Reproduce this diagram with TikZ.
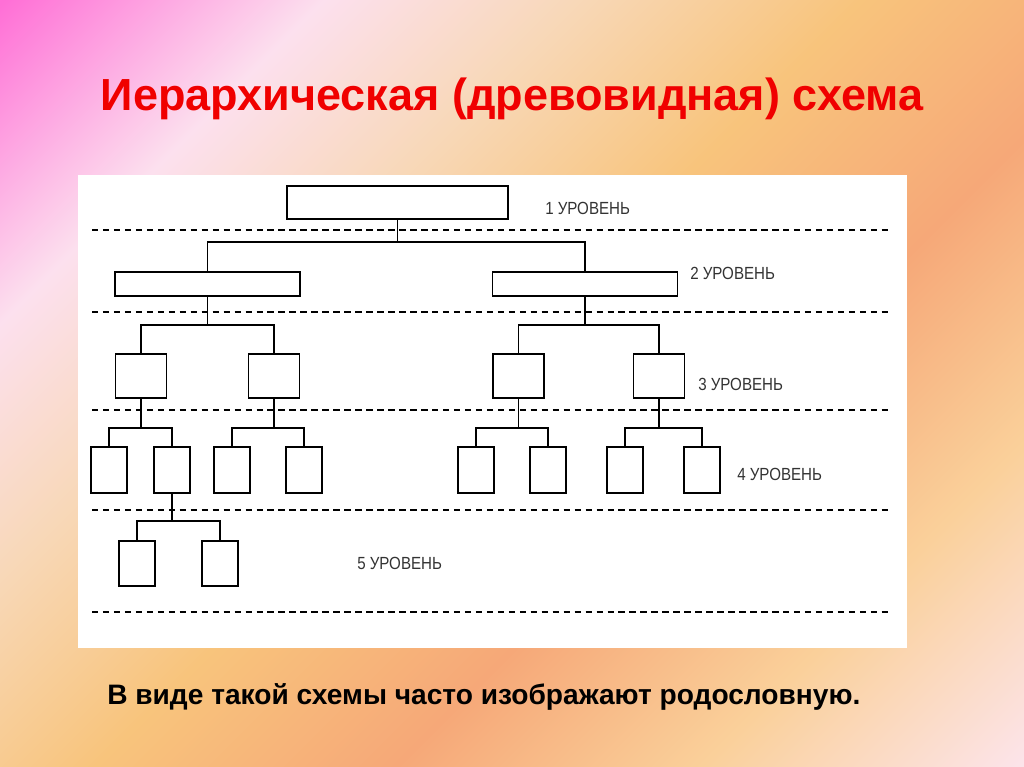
\documentclass[tikz,border=0pt]{standalone}
\usepackage{fontspec}
\setmainfont{Liberation Sans}
\newfontfamily\narrowfont[FakeStretch=0.86]{Liberation Sans}
\usepackage{xcolor}
\usetikzlibrary{calc, positioning}

\definecolor{bgmag}{HTML}{FF6FD6}
\definecolor{bgpale}{HTML}{FCE0EE}
\definecolor{bgpeach}{HTML}{F8D8B8}
\definecolor{bgorange}{HTML}{F8C47C}
\definecolor{bgsalmon}{HTML}{F6A878}
\definecolor{bglight}{HTML}{FAD09A}
\definecolor{bgend}{HTML}{FCE4EA}
\definecolor{titlered}{HTML}{F00000}
\definecolor{labelgray}{HTML}{333333}

\pgfdeclarehorizontalshading{slidebg}{100bp}{color(0bp)=(bgmag); color(14.6bp)=(bgmag);
  color(27.3bp)=(bgpale); color(37.3bp)=(bgpeach); color(48.6bp)=(bgorange);
  color(60.6bp)=(bgsalmon); color(72.7bp)=(bglight); color(85.4bp)=(bgend); color(100bp)=(bgend)}

\begin{document}
\begin{tikzpicture}[x=0.025cm,y=-0.025cm,
                    box node/.style={rectangle,draw=black,fill=white,line width=0.9pt,inner sep=0pt,outer sep=0pt},
                    level label/.style={anchor=west,inner sep=0pt,text=labelgray,font=\narrowfont\fontsize{12.5}{14}\selectfont},
                    sep line/.style={dashed,line width=1.6pt,dash pattern=on 4.6pt off 3.2pt},
                    tree line/.style={line width=0.9pt}]

 \useasboundingbox (0,0) rectangle (1024,767);
 \shade[shading=slidebg,shading angle=-45] (0,0) rectangle (1024,767);
 \fill[white] (78,175) rectangle (907,648);

 \node[anchor=base,text=titlered,font=\bfseries\fontsize{32}{38}\selectfont] (title) at (512,111) {Иерархическая (древовидная) схема};
 \node[anchor=base west,inner sep=0pt,font=\bfseries\fontsize{20}{24}\selectfont] (note) at (107,704) {В виде такой схемы часто изображают родословную.};

 % levels
 \foreach \y in {230,312,410,510,612}
   \draw[sep line] (92,\y) -- (892,\y);

 \node[box node,minimum width=5.525cm,minimum height=0.825cm] (l1) at (397.5,202.5) {};

 \node[box node,minimum width=4.625cm,minimum height=0.6cm] (l2a) at (207.5,284) {};
 \node[box node,minimum width=4.625cm,minimum height=0.6cm] (l2b) at (585,284) {};

 \node[box node,minimum width=1.275cm,minimum height=1.1cm] (l3a) at (141,376) {};
 \node[box node,minimum width=1.275cm,minimum height=1.1cm] (l3b) at (274,376) {};
 \node[box node,minimum width=1.275cm,minimum height=1.1cm] (l3c) at (518.5,376) {};
 \node[box node,minimum width=1.275cm,minimum height=1.1cm] (l3d) at (659,376) {};

 \foreach \x/\n in {109/a,172/b,232/c,304/d,476/e,548/f,625/g,702/h}
   \node[box node,minimum width=0.9cm,minimum height=1.15cm] (l4\n) at (\x,470) {};

 \node[box node,minimum width=0.9cm,minimum height=1.125cm] (l5a) at (137,563.5) {};
 \node[box node,minimum width=0.9cm,minimum height=1.125cm] (l5b) at (220,563.5) {};

 \node[level label] (lab1) at (545,208) {1 УРОВЕНЬ};
 \node[level label] (lab2) at (690,273) {2 УРОВЕНЬ};
 \node[level label] (lab3) at (698,384) {3 УРОВЕНЬ};
 \node[level label] (lab4) at (737,474) {4 УРОВЕНЬ};
 \node[level label] (lab5) at (357,563) {5 УРОВЕНЬ};

 \draw[tree line] (l1.south) -- ++(0,23) -| (l2a.north);
 \draw[tree line] (l1.south) -- ++(0,23) -| (l2b.north);

 \draw[tree line] (l2a.south) -- ++(0,29) -| (l3a.north);
 \draw[tree line] (l2a.south) -- ++(0,29) -| (l3b.north);
 \draw[tree line] (l2b.south) -- ++(0,29) -| (l3c.north);
 \draw[tree line] (l2b.south) -- ++(0,29) -| (l3d.north);

 \draw[tree line] (l3a.south) -- ++(0,30) -| (l4a.north);
 \draw[tree line] (l3a.south) -- ++(0,30) -| (l4b.north);
 \draw[tree line] (l3b.south) -- ++(0,30) -| (l4c.north);
 \draw[tree line] (l3b.south) -- ++(0,30) -| (l4d.north);
 \draw[tree line] (l3c.south) -- ++(0,30) -| (l4e.north);
 \draw[tree line] (l3c.south) -- ++(0,30) -| (l4f.north);
 \draw[tree line] (l3d.south) -- ++(0,30) -| (l4g.north);
 \draw[tree line] (l3d.south) -- ++(0,30) -| (l4h.north);

 \draw[tree line] (l4b.south) -- ++(0,28) -| (l5a.north);
 \draw[tree line] (l4b.south) -- ++(0,28) -| (l5b.north);

\end{tikzpicture}
\end{document}
